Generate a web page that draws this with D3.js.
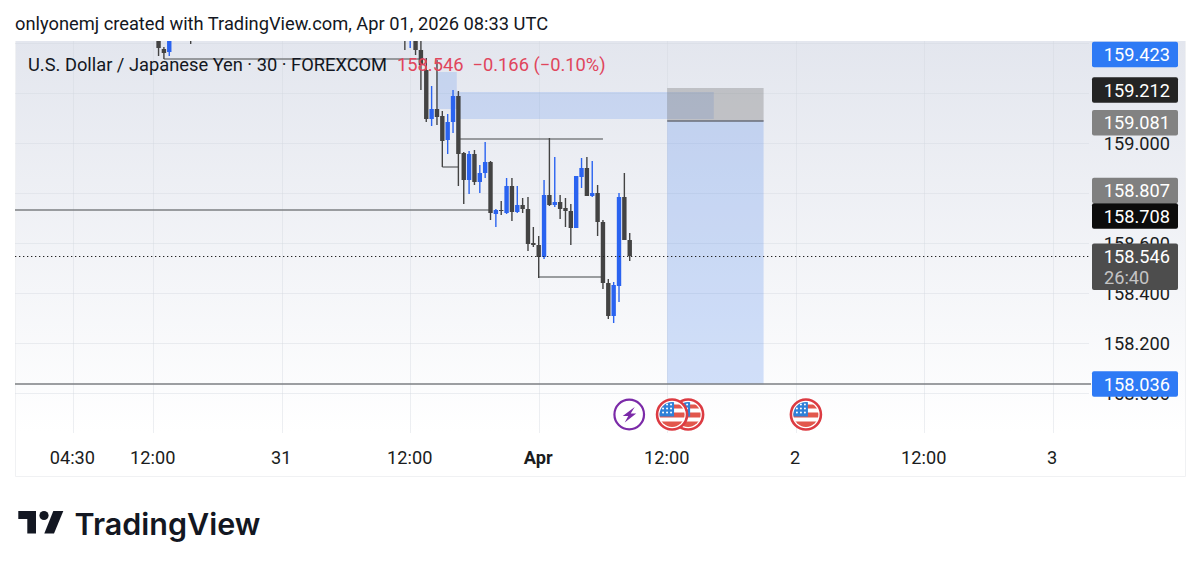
<!DOCTYPE html>
<html><head><meta charset="utf-8">
<script src="https://cdn.jsdelivr.net/npm/d3@7"></script>
<style>html,body{margin:0;padding:0;background:#fff;overflow:hidden}text{font-family:Roboto,sans-serif}</style>
</head><body><div id="c"></div>
<script>
// candle data: slot = number of 30 minute bars after 1 Apr 00:00 UTC
const slots=[-71,-70,-69,-65,-25,-24,-23,-22,-21,-20,-19,-18,-17,-16,-15,-14,-13,-12,-11,-10,-9,-8,-7,-6,-5,-4,-3,-2,-1,0,1,2,3,4,5,6,7,8,9,10,11,12,13,14,15,16,17];
const opens=[159.42,159.376,159.364,159.42,159.42,159.416,159.42,159.372,159.292,159.096,159.136,159.108,159.012,159.084,159.188,158.96,158.852,158.956,158.844,158.88,158.924,158.716,158.732,158.72,158.828,158.724,158.752,158.736,158.6,158.592,158.544,158.792,158.752,158.764,158.74,158.728,158.66,158.864,158.9,158.788,158.8,158.684,158.44,158.308,158.428,158.784,158.612];
const highs=[159.428,159.384,159.43,159.428,159.43,159.43,159.43,159.42,159.34,159.228,159.332,159.128,159.116,159.212,159.208,158.964,158.968,158.972,158.912,159.004,158.928,158.736,158.768,158.86,158.86,158.828,158.78,158.784,158.664,158.628,158.852,159.02,158.944,158.792,158.78,158.756,158.868,158.94,158.944,158.928,158.832,158.692,158.456,158.444,158.8,158.88,158.64];
const lows=[159.348,159.336,159.348,159.396,159.372,159.38,159.352,159.212,159.084,159.068,159.072,158.904,158.956,159.04,158.828,158.756,158.796,158.832,158.8,158.86,158.692,158.664,158.712,158.716,158.688,158.72,158.72,158.568,158.584,158.46,158.536,158.748,158.744,158.696,158.664,158.592,158.66,158.82,158.788,158.784,158.628,158.416,158.296,158.28,158.364,158.612,158.528];
const closes=[159.38,159.36,159.42,159.416,159.416,159.42,159.372,159.312,159.096,159.136,159.104,159.008,159.084,159.188,158.956,158.852,158.956,158.844,158.88,158.924,158.72,158.732,158.728,158.828,158.724,158.752,158.736,158.596,158.592,158.544,158.792,158.752,158.764,158.736,158.728,158.66,158.868,158.9,158.788,158.8,158.684,158.44,158.308,158.432,158.784,158.612,158.548];

// price axis
const gridPrices=[159.4,159.2,159,158.8,158.6,158.4,158.2,158];
const priceTicks=[159,158.6,158.4,158.2,158];
// time axis
const timeTicks=["2026-03-30T04:30Z","2026-03-30T12:00Z","2026-03-31T00:00Z","2026-03-31T12:00Z","2026-04-01T00:00Z","2026-04-01T12:00Z","2026-04-02T00:00Z","2026-04-02T12:00Z","2026-04-03T00:00Z"];
const timeLabels=["04:30","12:00","31","12:00","Apr","12:00","2","12:00","3"];
// price tags
const tagValues=["159.423","159.212","159.081","158.807","158.708","158.036"];
const tagCenters=[159.354,159.212,159.081,158.81,158.708,158.036];
const tagFills=["#2e7af5","#242424","#828282","#808080","#0c0c0c","#2e7af5"];
const lastPrice=158.546, countdown="26:40";
// drawings: price, from slot, to slot (null = edge of pane)
const rayPrices=[159.336,158.904,159.016,158.732,158.464,158.036];
const rayFrom=[-70,-18,-15,null,0,null];
const rayTo=[-22,-15,12,-9,12,null];
// zones: from slot, to slot, top price, bottom price
const zoneFrom=[-19,-15.3,24,24];
const zoneTo=[-15.3,32.7,42,42];
const zoneTop=[159.284,159.204,159.088,159.22];
const zoneBottom=[159.136,159.096,158.034,159.088];
const zoneFill=["rgba(41,110,235,.17)","rgba(41,110,235,.17)","rgba(41,110,235,.2)","rgba(125,125,125,.38)"];
// events
const eventSlots=[17,28,25,50];
const eventKinds=["bolt","us","us","us"];

const W=1200,H=569,L=15,R=1185,T=41,B=476,PR=1091,FS=18.2;
const svg=d3.select("#c").append("svg").attr("width",W).attr("height",H).style("display","block");
const defs=svg.append("defs");
const g=defs.append("linearGradient").attr("id","bg").attr("x1",0).attr("x2",0).attr("y1",0).attr("y2",1);
g.append("stop").attr("offset",0).attr("stop-color","#e3e6ee");
g.append("stop").attr("offset",.9).attr("stop-color","#ffffff");
defs.append("clipPath").attr("id","pane").append("rect").attr("x",L).attr("y",T).attr("width",PR-L).attr("height",B-T);
defs.append("clipPath").attr("id","flag").append("circle").attr("r",12.5);

const t0=new Date("2026-04-01T00:00Z");
const x=d3.scaleUtc().domain([t0,new Date("2026-04-02T00:00Z")]).range([538.7,795.7]);
const sx=s=>x(new Date(+t0+s*18e5));
const y=d3.scaleLinear().domain([159,158]).range([143,393]);

svg.append("rect").attr("x",L).attr("y",T).attr("width",R-L).attr("height",B-T).attr("fill","url(#bg)");
svg.append("path").attr("d",`M${L}.5 ${T}V${B}.5H${R}.5V${T}`).attr("fill","none").attr("stroke","#f0f1f3");

// grid
const grid=svg.append("g").attr("stroke","#d2d6de").attr("stroke-opacity",.4);
grid.selectAll("line.h").data(gridPrices).join("line").attr("class","h").attr("x1",L).attr("x2",PR-2)
 .attr("y1",d=>Math.round(y(d))+.5).attr("y2",d=>Math.round(y(d))+.5);
grid.selectAll("line.v").data(timeTicks).join("line").attr("class","v").attr("y1",T).attr("y2",433)
 .attr("x1",d=>Math.round(x(new Date(d)))+.5).attr("x2",d=>Math.round(x(new Date(d)))+.5);

const pane=svg.append("g").attr("clip-path","url(#pane)");
// zones
pane.selectAll("rect.z").data(zoneFrom).join("rect").attr("class","z")
 .attr("x",(d,i)=>sx(d)).attr("width",(d,i)=>sx(zoneTo[i])-sx(d))
 .attr("y",(d,i)=>y(zoneTop[i])).attr("height",(d,i)=>y(zoneBottom[i])-y(zoneTop[i]))
 .attr("fill",(d,i)=>zoneFill[i]);
pane.append("line").attr("x1",sx(24)).attr("x2",sx(42)).attr("y1",y(159.088)).attr("y2",y(159.088)).attr("stroke","#686c78").attr("stroke-width",1.5);
// rays
pane.selectAll("line.r").data(rayPrices).join("line").attr("class","r")
 .attr("x1",(d,i)=>rayFrom[i]===null?L:sx(rayFrom[i])).attr("x2",(d,i)=>rayTo[i]===null?PR:sx(rayTo[i]))
 .attr("y1",d=>y(d)).attr("y2",d=>y(d)).attr("stroke","#7d7f82").attr("stroke-width",1.6);
// candles
const up=i=>closes[i]>=opens[i];
const col=i=>up(i)?"#2a63f0":"#434343";
const c=pane.selectAll("g.c").data(slots).join("g").attr("class","c");
c.append("line").attr("x1",d=>sx(d)).attr("x2",d=>sx(d))
 .attr("y1",(d,i)=>y(highs[i])).attr("y2",(d,i)=>y(lows[i]))
 .attr("stroke",(d,i)=>col(i)).attr("stroke-width",1.4);
c.append("rect").attr("x",d=>sx(d)-2.2).attr("width",4.4)
 .attr("y",(d,i)=>y(Math.max(opens[i],closes[i])))
 .attr("height",(d,i)=>Math.max(1,Math.abs(y(opens[i])-y(closes[i]))))
 .attr("fill",(d,i)=>col(i));
// last price
pane.append("line").attr("x1",L).attr("x2",PR).attr("y1",y(lastPrice)).attr("y2",y(lastPrice))
 .attr("stroke","#222").attr("stroke-width",1.2).attr("stroke-dasharray","1.3 2.7");

// price axis
const ax=svg.append("g").attr("transform","translate(1170,0)")
 .call(d3.axisRight(y).tickValues(priceTicks).tickSize(0).tickPadding(0).tickFormat(d3.format(".3f")));
ax.select(".domain").remove();
ax.selectAll("text").attr("text-anchor","end").attr("font-size",FS).attr("fill","#1a1c20").style("font-family","Roboto,sans-serif").attr("dy",".36em");

// tags
const tg=svg.append("g");
tg.selectAll("rect").data(tagValues).join("rect").attr("x",1092).attr("width",86).attr("rx",2)
 .attr("y",(d,i)=>y(tagCenters[i])-12.8).attr("height",25.6).attr("fill",(d,i)=>tagFills[i]);
tg.selectAll("text").data(tagValues).join("text").attr("x",1170).attr("text-anchor","end").attr("font-size",FS)
 .attr("y",(d,i)=>y(tagCenters[i])+6.5).attr("fill","#fff").text(d=>d);
tg.append("rect").attr("x",1092).attr("width",86).attr("rx",2).attr("y",y(lastPrice)-13).attr("height",46.5).attr("fill","#4d4d4d");
tg.append("text").attr("x",1170).attr("text-anchor","end").attr("font-size",FS).attr("y",y(lastPrice)+6).attr("fill","#fff").text(lastPrice.toFixed(3));
tg.append("text").attr("x",1104).attr("font-size",FS).attr("y",y(lastPrice)+27).attr("fill","#c4c4c4").text(countdown);

// time axis
const tx=svg.append("g").attr("transform","translate(-1,451)")
 .call(d3.axisBottom(x).tickValues(timeTicks.map(d=>new Date(d))).tickSize(0).tickPadding(0).tickFormat((d,i)=>timeLabels[i]));
tx.select(".domain").remove();
tx.selectAll("text").attr("font-size",FS).attr("fill","#1a1c20").style("font-family","Roboto,sans-serif")
 .attr("font-weight",(d,i)=>timeLabels[i]==="Apr"?700:400);

// events
const ev=svg.selectAll("g.e").data(eventSlots).join("g").attr("class","e").attr("transform",d=>`translate(${sx(d)-.5},414.5)`);
ev.each(function(d,i){
 const e=d3.select(this);
 if(eventKinds[i]==="bolt"){
  e.append("circle").attr("r",14.8).attr("fill","#fff").attr("stroke","#7b2aa8").attr("stroke-width",2.2);
  e.append("path").attr("d","M5.5-7.5 L-6.5 1.5 L-1 1.5 L-4.5 8 L7 -1 L1.5 -1 Z").attr("fill","#7b2aa8");
 } else {
  e.append("circle").attr("r",15).attr("fill","#fff").attr("stroke","#dc3b42").attr("stroke-width",2.6);
  const f=e.append("g").attr("clip-path","url(#flag)");
  f.append("rect").attr("x",-13).attr("y",-13).attr("width",26).attr("height",26).attr("fill","#fff");
  [[-10,4],[-2,5],[7,7]].forEach(s=>f.append("rect").attr("x",-13).attr("y",s[0]).attr("width",26).attr("height",s[1]).attr("fill","#e2574c"));
  f.append("rect").attr("x",-13).attr("y",-13).attr("width",15).attr("height",15).attr("fill","#2f80d8");
  for(let a=-9;a<2;a+=4)for(let b=-10;b<1;b+=4)f.append("circle").attr("cx",a).attr("cy",b).attr("r",1).attr("fill","#fff");
 }
});

// texts
svg.append("text").attr("x",15).attr("y",30).attr("font-size",18.3).attr("fill","#131722").text("onlyonemj created with TradingView.com, Apr 01, 2026 08:33 UTC");
svg.append("text").attr("x",28).attr("y",71).attr("font-size",18.3).attr("fill","#131722").text("U.S. Dollar / Japanese Yen · 30 · FOREXCOM");
svg.append("text").attr("x",397).attr("y",71).attr("font-size",18.3).attr("fill","#e0455c").style("white-space","pre").text("158.546  −0.166 (−0.10%)");

// logo
const logo=svg.append("g").attr("fill","#131722");
logo.append("path").attr("d","M18.3 511H36V533.5H27.3V519H18.3Z");
logo.append("circle").attr("cx",44).attr("cy",515.5).attr("r",4.6);
logo.append("path").attr("d","M53.3 511H63.3L54 533.5H44.3Z");
svg.append("text").attr("x",74.5).attr("y",534.5).attr("font-size",30.5).attr("font-weight",600).attr("fill","#131722").style("font-family","Inter,sans-serif").text("TradingView");
</script></body></html>
